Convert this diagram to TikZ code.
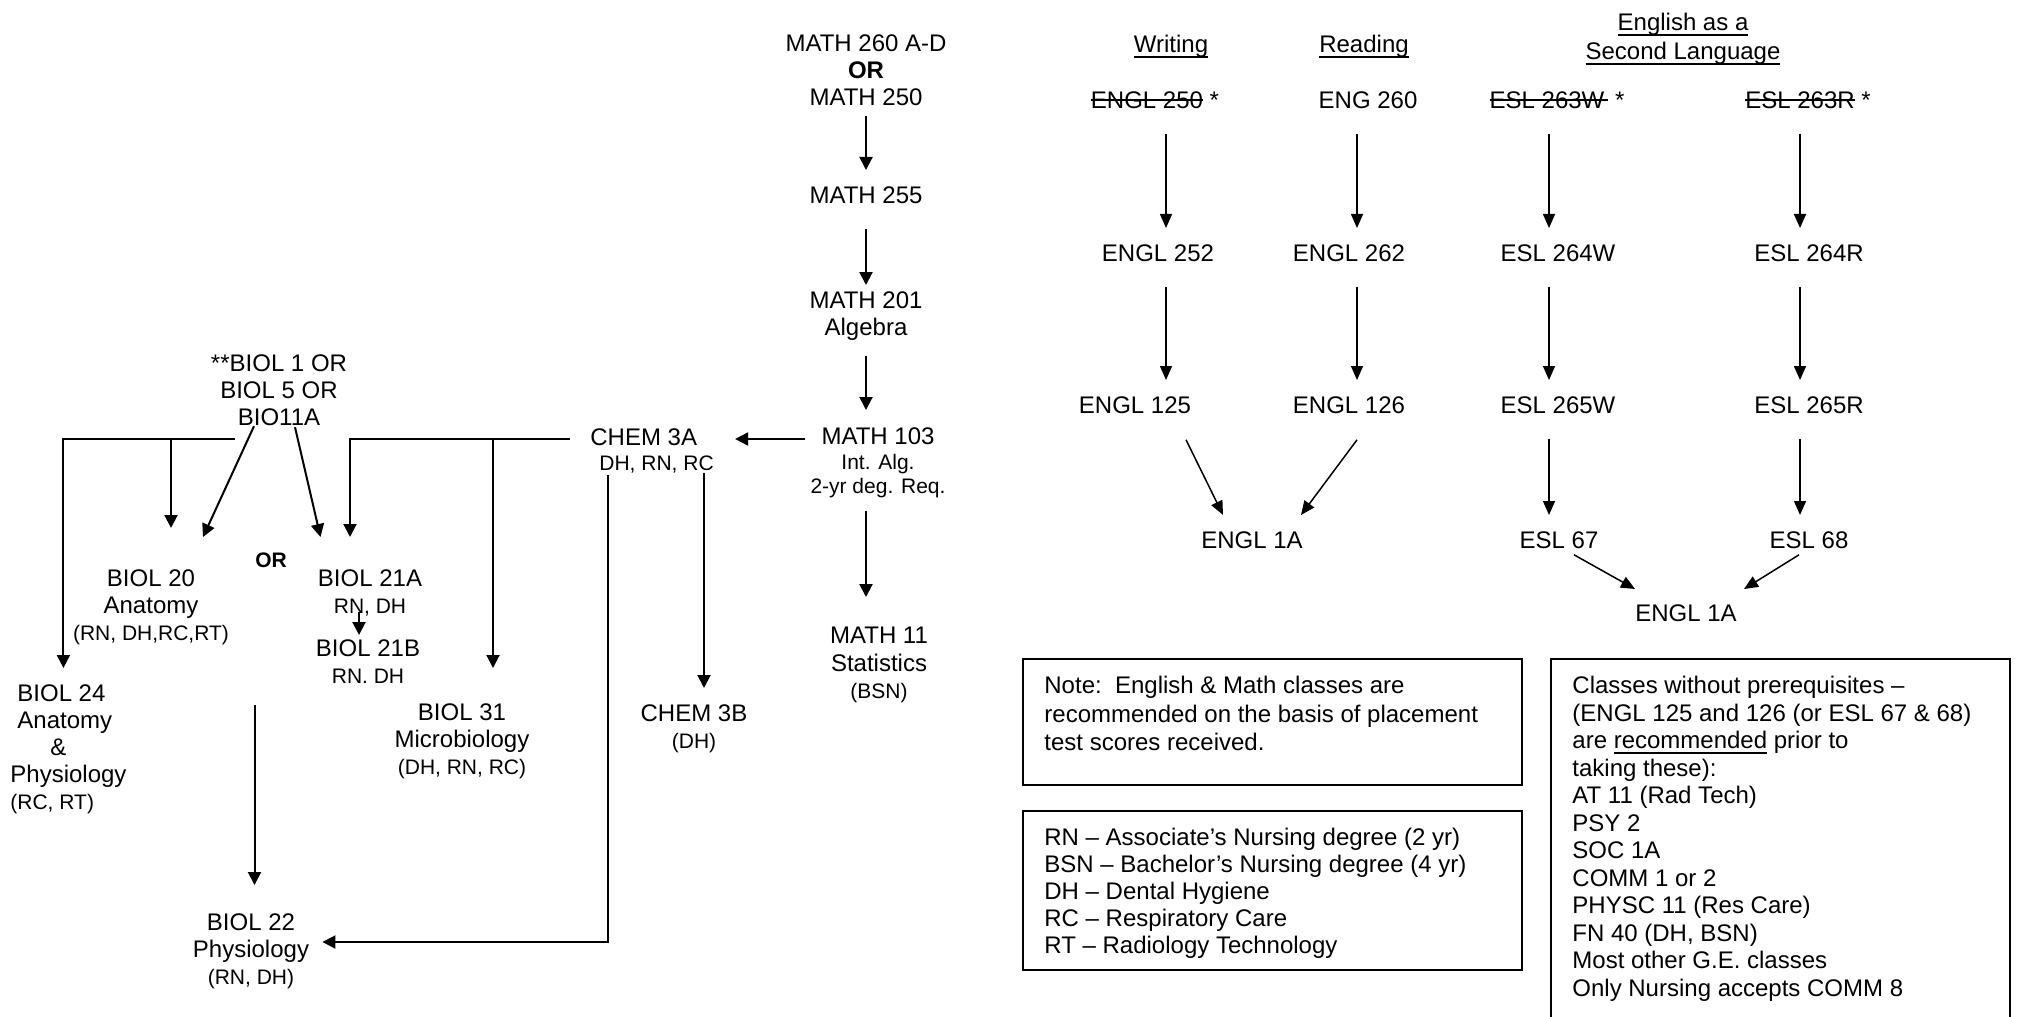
\documentclass[tikz,border=0pt]{standalone}
\usepackage{fontspec}
\setmainfont{Liberation Sans}
\usetikzlibrary{arrows.meta, calc}

\newcommand{\bodyf}{\fontsize{12}{13.6}\selectfont}
\newcommand{\subtxt}{\fontsize{10.5}{12.6}\selectfont}
\newcommand{\boxf}{\fontsize{12}{13.75}\selectfont}
\newsavebox{\markbox}
\newcommand{\undl}[1]{\sbox{\markbox}{#1}\rlap{\rule[-2.4pt]{\wd\markbox}{0.8pt}}\usebox{\markbox}}
\newcommand{\crossout}[1]{\sbox{\markbox}{#1}\rlap{\rule[3.6pt]{\wd\markbox}{0.9pt}}\usebox{\markbox}}

\tikzset{
    course/.style = {align=center, inner sep=0pt, anchor=north, font=\bodyf},
    box text/.style = {align=left, inner sep=0pt, anchor=north west, font=\boxf},
    box line/.style = {line width=1pt},
    link/.style = {line width=1pt, -{Triangle[length=6.5pt, width=6.5pt]}},
    thin link/.style = {line width=0.75pt, -{Triangle[length=7pt, width=6pt]}},
    engl link/.style = {thin link, shorten <=12.5pt, shorten >=8pt}
}

\begin{document}
\begin{tikzpicture}[x=0.5pt, y=-0.5pt]
    \useasboundingbox (0,0) rectangle (2021,1016);

    % math column
    \node[course] (math260) at (866,34) {MATH 260 A-D\\\textbf{OR}\\MATH 250};
    \node[course] (math255) at (866,186) {MATH 255};
    \node[course] (math201) at (866,291) {MATH 201\\Algebra};
    \node[course] (math103) at (878,427) {MATH 103\\[-1pt]{\subtxt Int. Alg.}\\[-1.5pt]{\subtxt 2-yr deg. Req.}};
    \node[course] (math11) at (879,627) {MATH 11\\Statistics\\{\subtxt (BSN)}};

    \draw[link, shorten <=5pt, shorten >=8pt] (math260.south) -- (math255.north);
    \draw[link, shorten <=12.5pt, shorten >=3pt] (math255.south) -- (math201.north);
    \draw[link, shorten <=7.5pt, shorten >=8.5pt] (math201.south) -- (math201.south |- math103.north);
    \draw[link, shorten <=6.5pt, shorten >=15pt] (math201.south |- math103.south) -- (math201.south |- math11.north);

    % chemistry
    \node[course, align=left, anchor=north west] (chem3a) at (590,428) {CHEM 3A\\[-1pt]\hspace*{4.5pt}{\subtxt DH, RN, RC}};
    \node[course] (chem3b) at (694,704) {CHEM 3B\\{\subtxt (DH)}};

    \draw[link] ($(math103.north west)+(-5,12)$) -- ($(chem3a.north east)+(21,11)$);

    % biology
    \node[course] (biol1) at (279,354) {**BIOL 1 OR\\BIOL 5 OR\\BIO11A};
    \node[course, font=\subtxt\bfseries] (orword) at (271,552) {OR};
    \node[course] (biol20) at (151,569) {BIOL 20\\Anatomy\\{\subtxt (RN, DH,RC,RT)}};
    \node[course] (biol21a) at (370,569) {BIOL 21A\\{\subtxt RN, DH}};
    \node[course] (biol21b) at (368,639) {BIOL 21B\\{\subtxt RN. DH}};
    \node[course, align=left, anchor=north west] (biol24) at (10,684)
        {\hspace*{3.5pt}BIOL 24\\\hspace*{3.5pt}Anatomy\\\hspace*{20pt}\&\\Physiology\\{\subtxt (RC, RT)}};
    \node[course] (biol31) at (462,703) {BIOL 31\\Microbiology\\{\subtxt (DH, RN, RC)}};
    \node[course] (biol22) at (251,913) {BIOL 22\\Physiology\\{\subtxt (RN, DH)}};

    \coordinate (biolbar) at ($(biol1.south west)+(24,13)$);
    \coordinate (drop20) at ($(biol20.north)+(20,-41)$);
    \coordinate (chembar) at ($(chem3a.north west)+(-20,11)$);
    \coordinate (drop31) at ($(biol31.north)+(31,-35)$);
    \coordinate (drop3b) at ($(chem3b.north)+(10,-16)$);
    \coordinate (gap22) at (254.5,705);

    \draw[link] (biolbar) -| ($(biol24.north)+(-5,-16)$);
    \draw[link] (drop20 |- biolbar) -- (drop20);
    \draw[link] ($(biol1.south)+(-25,0)$) -- ($(biol20.north)+(52,-32)$);
    \draw[link] ($(biol1.south)+(16,1)$) -- ($(biol21a.north)+(-49.5,-32)$);
    \draw[link] ($(biol21a.south)+(-11,-4)$) -- ($(biol21b.north)+(-9,-4)$);
    \draw[link, shorten >=14pt] (gap22) -- (gap22 |- biol22.north);

    \draw[link] (chembar) -| ($(biol21a.north)+(-20,-32)$);
    \draw[link] (drop31 |- chembar) -- (drop31);
    \draw[link] (drop3b |- chem3a.south) -- (drop3b);
    \draw[link] ($(chem3a.south west)+(18,2)$) |- ($(biol22.north east)+(13,29)$);

    % english headings
    \node[course] (hwrite) at (1171,35) {\undl{Writing}};
    \node[course] (hread) at (1364,35) {\undl{Reading}};
    \node[course] (hesl) at (1683,13) {\undl{English as a}\\[1pt]\undl{Second Language}};

    % english courses
    \node[course] (e250) at (1155,91) {\crossout{ENGL 250} *};
    \node[course] (e260) at (1368,91) {ENG 260};
    \node[course] (s263w) at (1557,91) {\crossout{ESL 263W\,} *};
    \node[course] (s263r) at (1808,91) {\crossout{ESL 263R} *};
    \node[course] (e252) at (1158,244) {ENGL 252};
    \node[course] (e262) at (1349,244) {ENGL 262};
    \node[course] (s264w) at (1558,244) {ESL 264W};
    \node[course] (s264r) at (1809,244) {ESL 264R};
    \node[course] (e125) at (1135,396) {ENGL 125};
    \node[course] (e126) at (1349,396) {ENGL 126};
    \node[course] (s265w) at (1558,396) {ESL 265W};
    \node[course] (s265r) at (1809,396) {ESL 265R};
    \node[course] (e1a) at (1252,531) {ENGL 1A};
    \node[course] (s67) at (1559,531) {ESL 67};
    \node[course] (s68) at (1809,531) {ESL 68};
    \node[course] (e1ab) at (1686,604) {ENGL 1A};

    \coordinate (colW) at (1166,0);
    \coordinate (colR) at (1357,0);
    \coordinate (colE) at (1549,0);
    \coordinate (colF) at (1800,0);

    \draw[engl link] (e250.south -| colW) -- (e252.north -| colW);
    \draw[engl link] (e260.south -| colR) -- (e262.north -| colR);
    \draw[engl link] (s263w.south -| colE) -- (s264w.north -| colE);
    \draw[engl link] (s263r.south -| colF) -- (s264r.north -| colF);
    \draw[engl link] (e252.south -| colW) -- (e125.north -| colW);
    \draw[engl link] (e262.south -| colR) -- (e126.north -| colR);
    \draw[engl link] (s264w.south -| colE) -- (s265w.north -| colE);
    \draw[engl link] (s264r.south -| colF) -- (s265r.north -| colF);
    \draw[engl link] (s265w.south -| colE) -- (s67.north -| colE);
    \draw[engl link] (s265r.south -| colF) -- (s68.north -| colF);

    \draw[thin link] ($(e125.south)+(51,26)$) -- ($(e1a.north)+(-29,-16)$);
    \draw[thin link] ($(e126.south)+(8,26)$) -- ($(e1a.north)+(49,-16)$);
    \draw[thin link] ($(s67.south)+(15,6)$) -- ($(e1ab.north)+(-51,-15)$);
    \draw[thin link] ($(s68.south)+(-10,6)$) -- ($(e1ab.north)+(58,-15)$);

    % boxes
    \draw[box line] (1023,659) rectangle (1522,785);
    \node[box text, font=\fontsize{12}{14.25}\selectfont] (note) at (1044,676)
        {Note:\ \ English \& Math classes are\\recommended on the basis of placement\\test scores received.};

    \draw[box line] (1023,811) rectangle (1522,970);
    \node[box text, font=\fontsize{12}{13.5}\selectfont] (legend) at (1044,828)
        {RN – Associate’s Nursing degree (2 yr)\\BSN – Bachelor’s Nursing degree (4 yr)\\DH – Dental Hygiene\\RC – Respiratory Care\\RT – Radiology Technology};

    \draw[box line] (1551,659) rectangle (2010,1040);
    \node[box text] (nopre) at (1572,676)
        {Classes without prerequisites –\\(ENGL 125 and 126 (or ESL 67 \& 68)\\are \undl{recommended} prior to\\taking these):\\AT 11 (Rad Tech)\\PSY 2\\SOC 1A\\COMM 1 or 2\\PHYSC 11 (Res Care)\\FN 40 (DH, BSN)\\Most other G.E. classes\\Only Nursing accepts COMM 8};
\end{tikzpicture}
\end{document}
